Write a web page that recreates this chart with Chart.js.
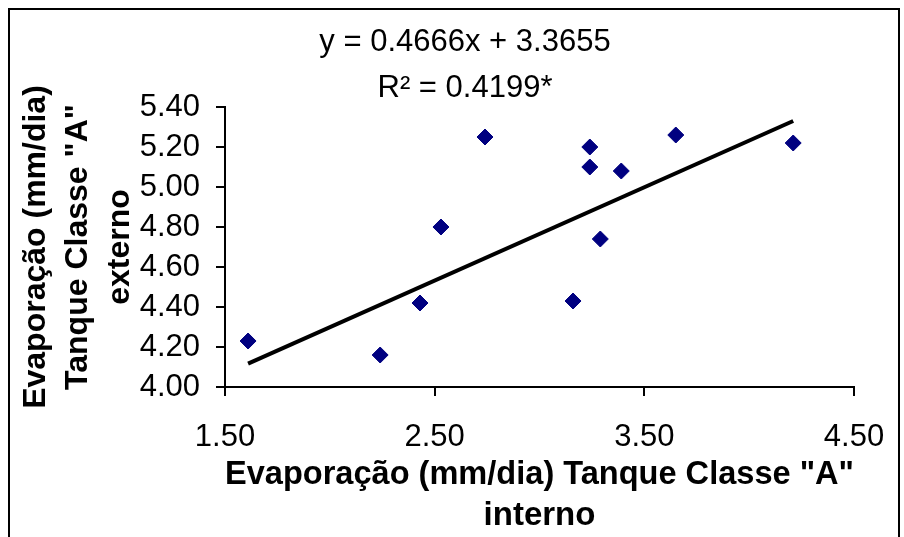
<!DOCTYPE html>
<html lang="pt">
<head>
  <meta charset="UTF-8" />
  <title>Evaporação Tanque Classe A</title>
  <script src="https://cdn.jsdelivr.net/npm/chart.js"></script>
  <style>
    body {
      margin: 0;
      padding: 0;
      background: #ffffff;
      overflow: hidden;
    }
    .wrap {
      position: relative;
      width: 904px;
      height: 537px;
    }
    .frame {
      position: absolute;
      left: 8px;
      top: 8px;
      width: 888px;
      height: 600px;
      border: 2px solid #000;
      pointer-events: none;
    }
    canvas { display: block; }
  </style>
</head>
<body>
  <div class="wrap">
    <canvas id="chart" width="904" height="537"></canvas>
    <div class="frame"></div>
  </div>

  <script>
    // leitura dos pontos (mm/dia)
    const xInterno = [1.61, 2.24, 2.43, 2.53, 2.74, 3.16, 3.24, 3.24, 3.29, 3.39, 3.65, 4.21];
    const yExterno = [4.23, 4.16, 4.42, 4.80, 5.25, 4.43, 5.20, 5.10, 4.74, 5.08, 5.26, 5.22];

    // regressão indicada no gráfico
    const slope = 0.4666;
    const intercept = 3.3655;
    const equationLines = ['y = 0.4666x + 3.3655', 'R² = 0.4199*'];

    const xTitle = ['Evaporação (mm/dia) Tanque Classe "A"', 'interno'];
    const yTitle = ['Evaporação (mm/dia)', 'Tanque Classe "A"', 'externo'];

    const points = xInterno.map((x, i) => ({ x: x, y: yExterno[i] }));
    const xMin = Math.min(...xInterno);
    const xMax = Math.max(...xInterno);
    const trend = [
      { x: xMin, y: slope * xMin + intercept },
      { x: xMax, y: slope * xMax + intercept }
    ];

    const fontFamily = '"Liberation Sans", Arial, sans-serif';
    Chart.defaults.color = '#000';
    Chart.defaults.font.family = fontFamily;

    new Chart(document.getElementById('chart'), {
      type: 'scatter',
      data: {
        datasets: [
          {
            data: points,
            pointStyle: 'rectRot',
            pointRadius: 8,
            backgroundColor: '#000080',
            borderColor: '#000080',
            borderWidth: 1,
            order: 1
          },
          {
            type: 'line',
            data: trend,
            borderColor: '#000',
            borderWidth: 4,
            pointRadius: 0,
            fill: false,
            order: 2
          }
        ]
      },
      options: {
        responsive: false,
        animation: false,
        layout: { padding: { left: 26, right: 0, top: 0, bottom: 0 } },
        plugins: {
          legend: { display: false },
          tooltip: { enabled: false },
          title: {
            display: true,
            text: equationLines,
            color: '#000',
            font: { size: 31, weight: 'normal', lineHeight: 46 / 31 },
            padding: { top: 19, bottom: -4 }
          }
        },
        scales: {
          x: {
            type: 'linear',
            min: 1.5,
            max: 4.5,
            border: { display: true, color: '#000', width: 2 },
            grid: { drawOnChartArea: false, drawTicks: true, tickLength: 9, color: '#000', lineWidth: 2 },
            ticks: {
              stepSize: 1,
              padding: 23,
              autoSkip: false,
              maxRotation: 0,
              color: '#000',
              font: { size: 31 },
              callback: v => v.toFixed(2)
            },
            title: {
              display: true,
              text: xTitle,
              color: '#000',
              font: { size: 33, weight: 'bold', lineHeight: 41 / 33 },
              padding: { top: 0, bottom: 1 }
            },
            afterFit: s => {
              s.height = 150;
              s.paddingRight = 50;
            }
          },
          y: {
            type: 'linear',
            min: 4,
            max: 5.4,
            border: { display: true, color: '#000', width: 2 },
            grid: { drawOnChartArea: false, drawTicks: true, tickLength: 9, color: '#000', lineWidth: 2 },
            ticks: {
              stepSize: 0.2,
              padding: 16,
              autoSkip: false,
              color: '#000',
              font: { size: 31, lineHeight: 1 },
              callback: v => v.toFixed(2)
            },
            title: {
              display: true,
              text: yTitle,
              color: '#000',
              font: { size: 32, weight: 'bold', lineHeight: 42 / 32 },
              padding: { top: -11, bottom: 0 }
            },
            afterFit: s => {
              s.width = 199;
            }
          }
        }
      }
    });
  </script>
</body>
</html>
